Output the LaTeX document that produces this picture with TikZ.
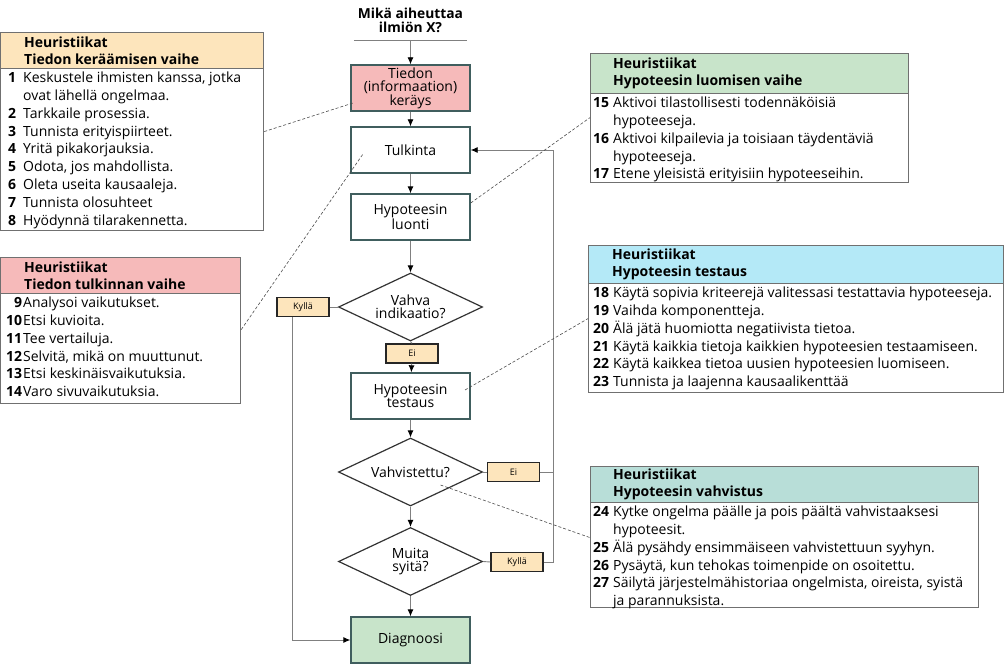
\documentclass[tikz,border=0pt]{standalone}
\usepackage{fontspec}
\setmainfont{Open Sans}
\usepackage{array}
\usetikzlibrary{shapes.geometric,arrows.meta}
\definecolor{gather-color}{RGB}{253,229,188}
\definecolor{interp-color}{RGB}{246,186,186}
\definecolor{hypgen-color}{RGB}{200,228,202}
\definecolor{test-color}{RGB}{180,233,247}
\definecolor{confirm-color}{RGB}{184,222,216}
\definecolor{frame-color}{RGB}{64,94,94}
\definecolor{line-color}{RGB}{128,128,128}
\definecolor{panel-color}{RGB}{112,112,112}

\newcommand{\listfont}{\fontsize{14}{17.8}\selectfont}
\newcommand{\flowfont}{\fontsize{14}{13.5}\selectfont}

\tikzset{
  flowbox/.style={draw=frame-color, line width=1.4pt, minimum width=119pt, minimum height=46pt, inner sep=0pt, align=center, font=\flowfont},
  decision/.style={diamond, draw=black!80, line width=1.2pt, minimum width=144pt, minimum height=68pt, aspect=2.12, inner sep=0pt, align=center, font=\flowfont},
  answer/.style={draw=black!85, line width=1.2pt, fill=gather-color, minimum width=52pt, minimum height=19pt, inner sep=0pt, font=\fontsize{9}{10}\selectfont},
  flowline/.style={draw=line-color, line width=0.9pt},
  flowarrow/.style={flowline, -{Latex[black,length=7pt,width=6pt]}},
  hintline/.style={draw=black!70, line width=0.6pt, dash pattern=on 3pt off 2pt},
  headbox/.style={draw=panel-color, line width=1.2pt, inner sep=0pt, anchor=north west},
  headtext/.style={anchor=west, inner sep=0pt, align=left, font=\fontsize{14}{17}\selectfont\bfseries},
  listbox/.style={draw=panel-color, line width=1.2pt, fill=white, inner sep=0pt, anchor=north west},
  listtext/.style={anchor=north west, inner sep=0pt, font=\listfont},
}

\begin{document}
\begin{tikzpicture}[x=1pt,y=-1pt]
  \useasboundingbox (0,0) rectangle (1006,666);

  % flow
  \node[font=\fontsize{13.8}{14}\selectfont\bfseries, align=center, minimum width=113pt, inner xsep=0pt, inner ysep=7pt, anchor=south] (question) at (410.5,40) {Mikä aiheuttaa\\ilmiön X?};
  \draw[line-color, line width=0.9pt] (question.south west) -- (question.south east);

  \node[flowbox, fill=interp-color] (gather) at (410.5,88) {Tiedon\\(informaation)\\keräys};
  \node[flowbox] (interp) at (410.5,150) {Tulkinta};
  \node[flowbox] (hypgen) at (410.5,217) {Hypoteesin\\luonti};
  \node[decision] (strong) at (410.5,307) {Vahva\\indikaatio?};
  \node[answer] (no1) at (412,353.5) {Ei};
  \node[answer] (yes1) at (303,307) {Kyllä};
  \node[flowbox] (hyptest) at (410.5,396) {Hypoteesin\\testaus};
  \node[decision] (confirmed) at (410.5,472) {Vahvistettu?};
  \node[answer] (no2) at (513.5,472) {Ei};
  \node[decision] (others) at (410.5,561.5) {Muita\\syitä?};
  \node[answer] (yes2) at (517,562) {Kyllä};
  \node[flowbox, fill=hypgen-color] (diagnosis) at (410.5,640) {Diagnoosi};
  \coordinate (backcorner) at (553,472);

  \draw[flowarrow] (question.south) -- (gather.north);
  \draw[flowarrow] (gather) -- (interp);
  \draw[flowarrow] (interp) -- (hypgen);
  \draw[flowarrow] (hypgen.south) -- (strong.north);
  \draw[flowline] (strong.south) -- (no1.north);
  \draw[flowarrow] (no1) -- (hyptest);
  \draw[flowarrow] (hyptest.south) -- (confirmed.north);
  \draw[flowarrow] (confirmed.south) -- (others.north);
  \draw[flowarrow] (others.south) -- (diagnosis.north);
  \draw[flowline] (strong.west) -- (yes1.east);
  \draw[flowarrow] ([xshift=-11pt]yes1.south) |- (diagnosis.west);
  \draw[flowline] (confirmed.east) -- (no2.west);
  \draw[flowarrow] (no2.east) -- (backcorner) |- (interp.east);
  \draw[flowline] (others.east) -- (yes2.west);
  \draw[flowline] (yes2.east) -| (backcorner);

  % heuristics panels
  \node[headbox, fill=gather-color, minimum width=263pt, minimum height=36pt] (gatherhead) at (0,32) {};
  \node[headtext] (gatherheadtext) at ([xshift=24pt]gatherhead.west) {Heuristiikat\\Tiedon keräämisen vaihe};
  \node[listbox, minimum width=263pt, minimum height=162pt] (gatherlist) at (0,68) {};
  \node[listtext] (gathertext) at ([xshift=8pt,yshift=-2pt]gatherlist.north west) {%
    \begin{tabular}{@{}>{\bfseries}l@{\hspace{7pt}}l@{}}
      1 & Keskustele ihmisten kanssa, jotka\\
        & ovat lähellä ongelmaa.\\
      2 & Tarkkaile prosessia.\\
      3 & Tunnista erityispiirteet.\\
      4 & Yritä pikakorjauksia.\\
      5 & Odota, jos mahdollista.\\
      6 & Oleta useita kausaaleja.\\
      7 & Tunnista olosuhteet\\
      8 & Hyödynnä tilarakennetta.
    \end{tabular}};

  \node[headbox, fill=interp-color, minimum width=240pt, minimum height=36pt] (interphead) at (0,257) {};
  \node[headtext] (interpheadtext) at ([xshift=24pt]interphead.west) {Heuristiikat\\Tiedon tulkinnan vaihe};
  \node[listbox, minimum width=240pt, minimum height=110pt] (interplist) at (0,293) {};
  \node[listtext] (interptext) at ([xshift=6pt,yshift=-2pt]interplist.north west) {%
    \begin{tabular}{@{}>{\bfseries}r@{\hspace{1pt}}l@{}}
      9 & Analysoi vaikutukset.\\
      10 & Etsi kuvioita.\\
      11 & Tee vertailuja.\\
      12 & Selvitä, mikä on muuttunut.\\
      13 & Etsi keskinäisvaikutuksia.\\
      14 & Varo sivuvaikutuksia.
    \end{tabular}};

  \node[headbox, fill=hypgen-color, minimum width=318pt, minimum height=40pt] (hypgenhead) at (590,53) {};
  \node[headtext] (hypgenheadtext) at ([xshift=23pt]hypgenhead.west) {Heuristiikat\\Hypoteesin luomisen vaihe};
  \node[listbox, minimum width=318pt, minimum height=89pt] (hypgenlist) at (590,93) {};
  \node[listtext] (hypgentext) at ([xshift=3pt,yshift=-2pt]hypgenlist.north west) {%
    \begin{tabular}{@{}>{\bfseries}r@{\hspace{4pt}}l@{}}
      15 & Aktivoi tilastollisesti todennäköisiä\\
         & hypoteeseja.\\
      16 & Aktivoi kilpailevia ja toisiaan täydentäviä\\
         & hypoteeseja.\\
      17 & Etene yleisistä erityisiin hypoteeseihin.
    \end{tabular}};

  \node[headbox, fill=test-color, minimum width=415pt, minimum height=38pt] (testhead) at (588,245) {};
  \node[headtext] (testheadtext) at ([xshift=24pt]testhead.west) {Heuristiikat\\Hypoteesin testaus};
  \node[listbox, minimum width=415pt, minimum height=109pt] (testlist) at (588,283) {};
  \node[listtext] (testtext) at ([xshift=5pt,yshift=-2pt]testlist.north west) {%
    \begin{tabular}{@{}>{\bfseries}r@{\hspace{4pt}}l@{}}
      18 & Käytä sopivia kriteerejä valitessasi testattavia hypoteeseja.\\
      19 & Vaihda komponentteja.\\
      20 & Älä jätä huomiotta negatiivista tietoa.\\
      21 & Käytä kaikkia tietoja kaikkien hypoteesien testaamiseen.\\
      22 & Käytä kaikkea tietoa uusien hypoteesien luomiseen.\\
      23 & Tunnista ja laajenna kausaalikenttää
    \end{tabular}};

  \node[headbox, fill=confirm-color, minimum width=388pt, minimum height=36pt] (confirmhead) at (590,466) {};
  \node[headtext] (confirmheadtext) at ([xshift=23pt]confirmhead.west) {Heuristiikat\\Hypoteesin vahvistus};
  \node[listbox, minimum width=388pt, minimum height=105pt] (confirmlist) at (590,502) {};
  \node[listtext] (confirmtext) at ([xshift=3pt,yshift=-2pt]confirmlist.north west) {%
    \begin{tabular}{@{}>{\bfseries}r@{\hspace{4pt}}l@{}}
      24 & Kytke ongelma päälle ja pois päältä vahvistaaksesi\\
         & hypoteesit.\\
      25 & Älä pysähdy ensimmäiseen vahvistettuun syyhyn.\\
      26 & Pysäytä, kun tehokas toimenpide on osoitettu.\\
      27 & Säilytä järjestelmähistoriaa ongelmista, oireista, syistä\\
         & ja parannuksista.
    \end{tabular}};

  % dashed hints
  \draw[hintline] ([yshift=18pt]gatherlist.east) -- ([xshift=-57.5pt,yshift=-15pt]gather.center);
  \draw[hintline] ([yshift=19pt]interplist.east) -- ([xshift=-47.5pt,yshift=-4pt]interp.center);
  \draw[hintline] ([yshift=14pt]hypgen.east) -- ([yshift=20.5pt]hypgenlist.west);
  \draw[hintline] ([xshift=54.5pt,yshift=6pt]hyptest.center) -- ([yshift=19.5pt]testlist.west);
  \draw[hintline] ([xshift=30pt,yshift=-13pt]confirmed.center) -- ([yshift=17.5pt]confirmlist.west);
\end{tikzpicture}
\end{document}
